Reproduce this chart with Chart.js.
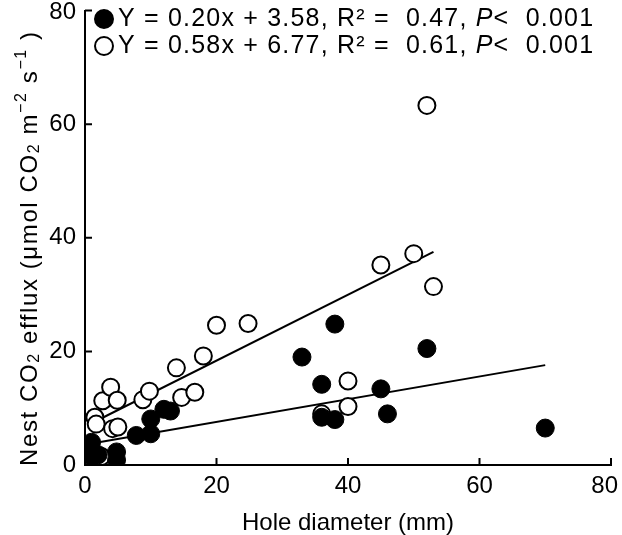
<!DOCTYPE html>
<html>
<head>
<meta charset="utf-8">
<script src="https://cdn.jsdelivr.net/npm/chart.js@4.4.1/dist/chart.umd.min.js"></script>
<style>
  html, body { margin: 0; padding: 0; background: #fff; }
  #wrap { width: 622px; height: 535px; }
</style>
</head>
<body>
<div id="wrap"><canvas id="effluxChart" width="622" height="535"></canvas></div>
<script>
// filled circles
const filledX = [1, 1.2, 2, 1, 4.8, 4.8, 7.8, 10, 10, 12, 13, 33, 36, 36, 38, 38, 45, 46, 52, 70];
const filledY = [4.0, 2.3, 1.8, 1.5, 2.3, 0.9, 5.2, 5.5, 8.1, 9.8, 9.5, 19.0, 14.2, 8.4, 24.8, 8.0, 13.4, 9.0, 20.5, 6.5];
// open circles
const openX = [1, 2.5, 1.5, 1.7, 2.7, 3.9, 4.9, 4.2, 5, 8.8, 9.8, 14.7, 16.7, 13.9, 18, 20, 24.8, 36, 40, 40, 45, 50, 53, 52];
const openY = [2.5, 1.5, 8.4, 7.2, 11.3, 13.7, 11.4, 6.4, 6.7, 11.5, 13.0, 11.9, 12.8, 17.1, 19.2, 24.6, 24.9, 9.0, 14.8, 10.3, 35.2, 37.2, 31.4, 63.3];
// regression line end points (from the printed equations)
const fitFilledX = [1, 70];
const fitFilledY = [3.78, 17.58];
const fitOpenX = [1, 53];
const fitOpenY = [7.35, 37.51];

const xTicks = [0, 20, 40, 60, 80];
const yTicks = [0, 20, 40, 60, 80];

const legendRows = [
    { filled: true, eq: 'Y = 0.20x + 3.58, R\u00B2 =  0.47, ', p: '<  0.001' },
    { filled: false, eq: 'Y = 0.58x + 6.77, R\u00B2 =  0.61, ', p: '<  0.001' }
];

// y title pieces: normal / sub / sup
const yTitleParts = [
    ['Nest CO', 0], ['2', 1], [' efflux (\u03BCmol CO', 0], ['2', 1],
    [' m', 0], ['\u22122', 2], [' s', 0], ['\u22121', 2], [' )', 0]
];

function toPoints(xs, ys) {
    return xs.map(function (x, i) { return { x: x, y: ys[i] }; });
}

const FONT = '"Liberation Sans", Arial, sans-serif';

// inward ticks, tick labels, y title and legend
const extras = {
    id: 'extras',
    afterDatasetsDraw(chart) {
        const ctx = chart.ctx;
        const W = chart.width;
        const xs = chart.scales.x, ys = chart.scales.y;
        ctx.save();
        ctx.strokeStyle = '#000';
        ctx.lineWidth = 2;
        ctx.beginPath();
        xTicks.forEach(function (v) {
            const px = xs.getPixelForValue(v);
            ctx.moveTo(px, ys.bottom);
            ctx.lineTo(px, ys.bottom - 7);
        });
        yTicks.forEach(function (v) {
            const py = ys.getPixelForValue(v);
            ctx.moveTo(xs.left, py);
            ctx.lineTo(xs.left + 7, py);
        });
        ctx.stroke();

        // tick labels, kept inside the canvas
        ctx.fillStyle = '#000';
        ctx.font = '24px ' + FONT;
        ctx.textBaseline = 'middle';
        ctx.textAlign = 'right';
        yTicks.forEach(function (v) {
            const py = Math.max(ys.getPixelForValue(v), 12);
            ctx.fillText(String(v), xs.left - 9, py);
        });
        ctx.textAlign = 'center';
        ctx.textBaseline = 'top';
        xTicks.forEach(function (v) {
            const label = String(v);
            const w = ctx.measureText(label).width;
            const px = Math.min(xs.getPixelForValue(v), W - 4 - w / 2);
            ctx.fillText(label, px, ys.bottom + 9);
        });
        ctx.textAlign = 'left';

        // y axis title, read bottom to top
        ctx.save();
        ctx.translate(30, 0);
        ctx.rotate(-Math.PI / 2);
        ctx.textBaseline = 'middle';
        ctx.letterSpacing = '1.6px';
        let u = -466;
        yTitleParts.forEach(function (p) {
            let off = 0;
            if (p[1] === 0) {
                ctx.font = '24px ' + FONT;
            } else {
                ctx.font = '16px ' + FONT;
                off = p[1] === 1 ? 5 : -8;
            }
            ctx.fillText(p[0], u, off);
            u += ctx.measureText(p[0]).width;
        });
        ctx.restore();

        // legend
        ctx.letterSpacing = '1.2px';
        let rowY = 19;
        legendRows.forEach(function (row) {
            ctx.beginPath();
            ctx.arc(104, rowY, 9, 0, Math.PI * 2);
            ctx.fillStyle = row.filled ? '#000' : '#fff';
            ctx.fill();
            ctx.lineWidth = 2;
            ctx.stroke();
            ctx.fillStyle = '#000';
            ctx.textBaseline = 'middle';
            ctx.font = '25px ' + FONT;
            let tx = 118;
            ctx.fillText(row.eq, tx, rowY);
            tx += ctx.measureText(row.eq).width;
            ctx.font = 'italic 25px ' + FONT;
            ctx.fillText('P', tx, rowY);
            tx += ctx.measureText('P').width;
            ctx.font = '25px ' + FONT;
            ctx.fillText(row.p, tx, rowY);
            rowY += 27;
        });
        ctx.restore();
    }
};

window.onload = function () {
    const ctx = document.getElementById('effluxChart').getContext('2d');
    new Chart(ctx, {
        type: 'scatter',
        data: {
            datasets: [
                {
                    label: 'filled',
                    data: toPoints(filledX, filledY),
                    backgroundColor: '#000',
                    borderColor: '#000',
                    borderWidth: 1,
                    pointRadius: 9,
                    order: 1
                },
                {
                    label: 'open',
                    data: toPoints(openX, openY),
                    backgroundColor: '#fff',
                    borderColor: '#000',
                    borderWidth: 2,
                    pointRadius: 8.5,
                    order: 2
                },
                {
                    label: 'fit filled',
                    data: toPoints(fitFilledX, fitFilledY),
                    showLine: true,
                    borderColor: '#000',
                    borderWidth: 2,
                    pointRadius: 0,
                    order: 3
                },
                {
                    label: 'fit open',
                    data: toPoints(fitOpenX, fitOpenY),
                    showLine: true,
                    borderColor: '#000',
                    borderWidth: 2,
                    pointRadius: 0,
                    order: 3
                }
            ]
        },
        options: {
            responsive: false,
            animation: false,
            layout: { padding: { top: 4, right: 11, left: 0, bottom: 0 } },
            plugins: { legend: { display: false }, tooltip: { enabled: false } },
            scales: {
                x: {
                    min: 0, max: 80,
                    afterFit: function (s) { s.height = 70; s.paddingLeft = 0; s.paddingRight = 0; },
                    afterBuildTicks: function (s) { s.ticks = xTicks.map(function (v) { return { value: v }; }); },
                    grid: { display: false, drawTicks: false },
                    border: { display: true, color: '#000', width: 2 },
                    ticks: { display: false },
                    title: { display: true, text: 'Hole diameter (mm)', color: '#000',
                             font: { family: FONT, size: 24 }, padding: { top: 0, bottom: -3 } }
                },
                y: {
                    min: 0, max: 80,
                    afterFit: function (s) { s.width = 85; s.paddingTop = 0; s.paddingBottom = 0; },
                    afterBuildTicks: function (s) { s.ticks = yTicks.map(function (v) { return { value: v }; }); },
                    grid: { display: false, drawTicks: false },
                    border: { display: true, color: '#000', width: 2 },
                    ticks: { display: false },
                    title: { display: false }
                }
            }
        },
        plugins: [extras]
    });
};
</script>
</body>
</html>
